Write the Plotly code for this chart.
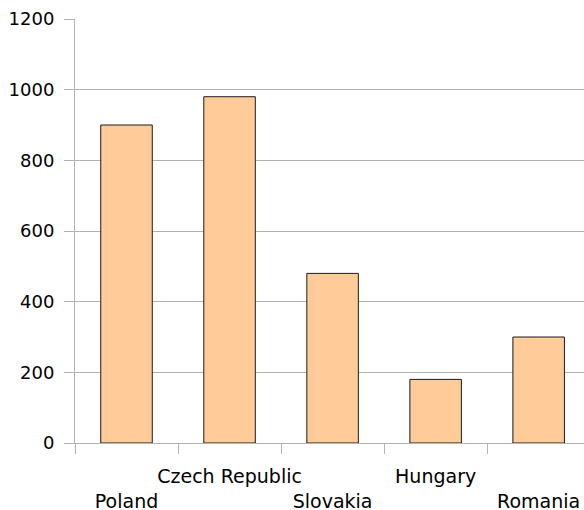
import plotly.graph_objects as go

categories = ["Poland", "Czech Republic", "Slovakia", "Hungary", "Romania"]
values = [900, 980, 480, 180, 300]
tick_labels = [" <br>Poland", "Czech Republic<br> ", " <br>Slovakia", "Hungary<br> ", " <br>Romania"]

fig = go.Figure(go.Bar(
    x=categories, y=values, width=0.5,
    marker=dict(color="#ffcc99", line=dict(color="#1a1a1a", width=1)),
))
fig.update_layout(
    width=584, height=510, margin=dict(l=75, r=0, t=19, b=67, autoexpand=False),
    plot_bgcolor="white", paper_bgcolor="white",
    font=dict(family="DejaVu Sans", size=18, color="black"),
    showlegend=False,
)
fig.update_xaxes(
    range=[-0.5, 4.44], tickmode="array", tickvals=categories, ticktext=tick_labels,
    tickson="boundaries", ticks="outside", ticklen=10, tickcolor="#b3b3b3",
    showline=True, linecolor="#b3b3b3", linewidth=1, showgrid=False,
    tickangle=0, automargin=False, tickfont=dict(size=19), ticklabelstandoff=16,
)
fig.update_yaxes(
    range=[0, 1200], dtick=200, ticks="outside", ticklen=10, tickcolor="#b3b3b3",
    showline=True, linecolor="#b3b3b3", gridcolor="#b3b3b3", gridwidth=1,
    zeroline=False, automargin=False, ticklabelstandoff=6,
)
fig.write_html("out.html")
